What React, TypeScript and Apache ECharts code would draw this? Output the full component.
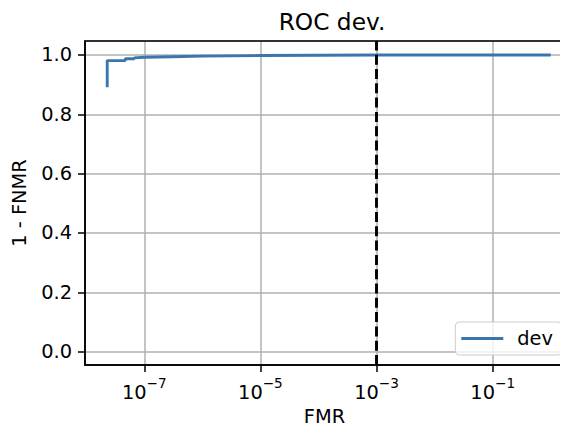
import React, { useEffect, useRef } from "react";
import * as echarts from "echarts";

// ROC curve data
const fmrValues = [2.3e-8, 2.3e-8, 4.7e-8, 4.7e-8, 6.7e-8, 6.7e-8, 1e-7, 3e-7, 1e-6, 1e-5, 1e-4, 1e-3, 1e-2, 1e-1, 1.0];
const tprValues = [0.891, 0.981, 0.981, 0.987, 0.987, 0.99, 0.992, 0.994, 0.996, 0.998, 0.999, 1.0, 1.0, 1.0, 1.0];
const thresholdFmr = 1e-3;
const seriesName = "dev";
const titleText = "ROC dev.";
const xName = "FMR";
const yName = "1 - FNMR";
// log10 axis extent (decades)
const xLogMin = -8.021;
const xLogMax = 0.228;
const yMin = -0.045;
const yMax = 1.047;

// shift so that axis ticks land on odd decades (10^-7, 10^-5, ...)
const SHIFT = 1;
const toAxis = (v: number) => Math.log10(v) + SHIFT;

const FONT = "DejaVu Sans";
const FS = 19.4;
const LINE_COLOR = "#3a75b0";

export default function App() {
  const ref = useRef<HTMLDivElement>(null);
  useEffect(() => {
    if (!ref.current) return;
    const chart = echarts.init(ref.current, null, { renderer: "svg" });
    const data = fmrValues.map((f, i) => [toAxis(f), tprValues[i]]);
    chart.setOption({
      animation: false,
      textStyle: { fontFamily: FONT },
      title: {
        text: titleText,
        left: 327,
        top: 5,
        textAlign: "center",
        textStyle: { fontFamily: FONT, fontSize: 23.3, fontWeight: "normal", color: "#000" },
      },
      grid: {
        left: 85,
        right: 4,
        top: 41,
        bottom: 67,
        show: true,
        z: 5,
        borderColor: "#000",
        borderWidth: 1.5,
        backgroundColor: "transparent",
      },
      legend: {
        right: 6,
        bottom: 77,
        z: 6,
        itemWidth: 42,
        itemHeight: 2.9,
        icon: "rect",
        padding: [7, 9, 7, 6],
        backgroundColor: "rgba(255,255,255,0.8)",
        borderColor: "#cccccc",
        borderWidth: 1,
        borderRadius: 4,
        textStyle: { fontFamily: FONT, fontSize: FS, color: "#000", padding: [0, 0, 0, 9] },
        data: [{ name: seriesName, icon: "rect", itemStyle: { color: LINE_COLOR } }],
      },
      xAxis: {
        type: "value",
        min: xLogMin + SHIFT,
        max: xLogMax + SHIFT,
        name: xName,
        nameLocation: "middle",
        nameGap: 42,
        nameTextStyle: { fontFamily: FONT, fontSize: FS, color: "#000" },
        axisLine: { show: true, onZero: false, lineStyle: { color: "#000", width: 1.5 } },
        axisTick: { show: true, inside: false, length: 7, lineStyle: { color: "#000", width: 1.5 } },
        splitLine: { show: true, lineStyle: { color: "#b0b0b0", width: 1.5 } },
        axisLabel: {
          showMinLabel: false,
          showMaxLabel: false,
          margin: 11,
          color: "#000",
          formatter: (v: number) => {
            const e = Math.round(v - SHIFT);
            const s = e < 0 ? "\u2212" + Math.abs(e) : String(e);
            return `{b|10}{s|${s}}`;
          },
          rich: {
            b: { fontFamily: FONT, fontSize: FS, color: "#000", lineHeight: 26, verticalAlign: "bottom" },
            s: { fontFamily: FONT, fontSize: 13.6, color: "#000", lineHeight: 15, verticalAlign: "top" },
          },
        },
      },
      yAxis: {
        type: "value",
        min: yMin,
        max: yMax,
        name: yName,
        nameLocation: "middle",
        nameGap: 56,
        nameTextStyle: { fontFamily: FONT, fontSize: FS, color: "#000" },
        axisLine: { show: true, onZero: false, lineStyle: { color: "#000", width: 1.5 } },
        axisTick: { show: true, inside: false, length: 7, lineStyle: { color: "#000", width: 1.5 } },
        splitLine: { show: true, lineStyle: { color: "#b0b0b0", width: 1.5 } },
        axisLabel: {
          showMinLabel: false,
          showMaxLabel: false,
          margin: 13,
          fontFamily: FONT,
          fontSize: FS,
          color: "#000",
          formatter: (v: number) => v.toFixed(1),
        },
      },
      series: [
        {
          name: seriesName,
          type: "line",
          data,
          symbol: "none",
          showSymbol: false,
          lineStyle: { color: LINE_COLOR, width: 2.9 },
          itemStyle: { color: LINE_COLOR },
          markLine: {
            silent: true,
            symbol: ["none", "none"],
            label: { show: false },
            lineStyle: { color: "#000", width: 2.9, type: [10, 4.3] },
            data: [{ xAxis: toAxis(thresholdFmr) }],
          },
          z: 3,
        },
      ],
    });
    return () => chart.dispose();
  }, []);
  return <div ref={ref} style={{ width: 568, height: 432, marginLeft: -8, marginTop: -8 }} />;
}
